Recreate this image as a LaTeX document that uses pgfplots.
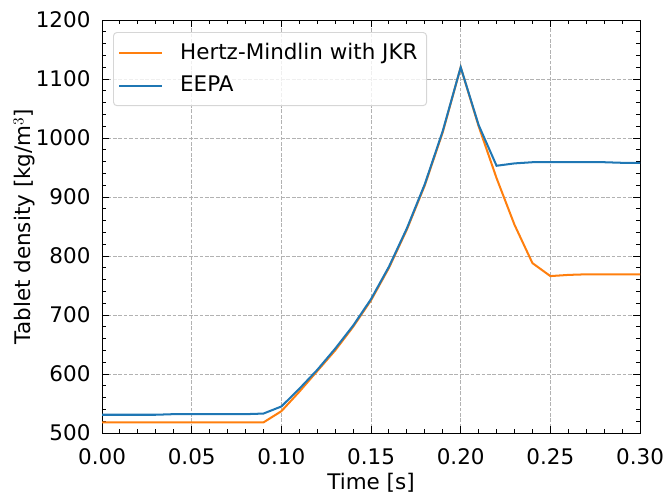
\documentclass[border=0pt]{standalone}
\usepackage{fontspec}
\setmainfont{DejaVu Sans}
\usepackage{pgfplots}
\pgfplotsset{compat=1.18}
\definecolor{mplorange}{HTML}{FF7F0E}
\definecolor{mplblue}{HTML}{1F77B4}
\pgfplotsset{
  myleg/.style={legend image code/.code={\draw[##1, line width=1.45bp] (0bp,0bp) -- (31bp,0bp);}},
}
\begin{document}
\fontsize{15.5}{18}\selectfont
\begin{tikzpicture}[x=1bp,y=1bp]
\useasboundingbox (-73.4bp,-43.2bp) rectangle (406.4bp,311.5bp);
\begin{axis}[
  at={(0,0)}, anchor=south west,
  scale only axis,
  width=387bp, height=297.1bp,
  xmin=0, xmax=0.30, ymin=500, ymax=1200,
  xtick={0,0.05,...,0.30},
  ytick={500,600,...,1200},
  minor x tick num=4,
  minor y tick num=4,
  xticklabel style={yshift=-6bp, /pgf/number format/.cd,fixed,fixed zerofill,precision=2},
  yticklabel style={xshift=-3bp, /pgf/number format/.cd,fixed,1000 sep={}},
  /pgf/number format/assume math mode=true,
  tick align=inside,
  xtick pos=both, ytick pos=both,
  major tick length=5bp, minor tick length=2.8bp,
  every tick/.style={black, line width=0.7bp},
  axis line style={line width=0.75bp},
  grid=major,
  major grid style={dash pattern=on 2.7bp off 1.2bp, color={rgb,255:red,178;green,178;blue,178}, line width=0.6bp},
  xlabel={Time [s]},
  ylabel={Tablet density [kg/m$^3$]},
  xlabel style={yshift=4.5bp},
  ylabel style={yshift=-10bp},
  legend cell align=left,
  legend style={draw={rgb,255:red,214;green,214;blue,214}, rounded corners=2.5bp, line width=0.7bp, fill=white, fill opacity=0.8, text opacity=1,
    at={(0.0204,0.971)}, anchor=north west, inner xsep=3.5bp, inner ysep=4.5bp, row sep=4bp,
    nodes={inner sep=3bp}, column sep=9bp},
  myleg,
]
\addplot[mplorange, line width=1.45bp] coordinates {
(0.00,518) (0.01,518) (0.02,518) (0.03,518) (0.04,518) (0.05,518) (0.06,518) (0.07,518) (0.08,518) (0.09,518)
(0.10,537) (0.11,570) (0.12,605) (0.13,640) (0.14,680) (0.15,725) (0.16,780) (0.17,845) (0.18,920) (0.19,1010)
(0.20,1120) (0.21,1020) (0.22,932) (0.23,853) (0.24,788) (0.25,766) (0.26,768) (0.27,769) (0.28,769) (0.29,769) (0.30,769)
};
\addlegendentry{Hertz-Mindlin with JKR}
\addplot[mplblue, line width=1.45bp] coordinates {
(0.00,531) (0.01,531) (0.02,531) (0.03,531) (0.04,532) (0.05,532) (0.06,532) (0.07,532) (0.08,532) (0.09,533)
(0.10,545) (0.11,575) (0.12,607) (0.13,643) (0.14,682) (0.15,727) (0.16,782) (0.17,847) (0.18,922) (0.19,1012)
(0.20,1120) (0.21,1022) (0.22,953) (0.23,957) (0.24,959) (0.25,959) (0.26,959) (0.27,959) (0.28,959) (0.29,958) (0.30,958)
};
\addlegendentry{EEPA}
\end{axis}
\end{tikzpicture}
\end{document}
